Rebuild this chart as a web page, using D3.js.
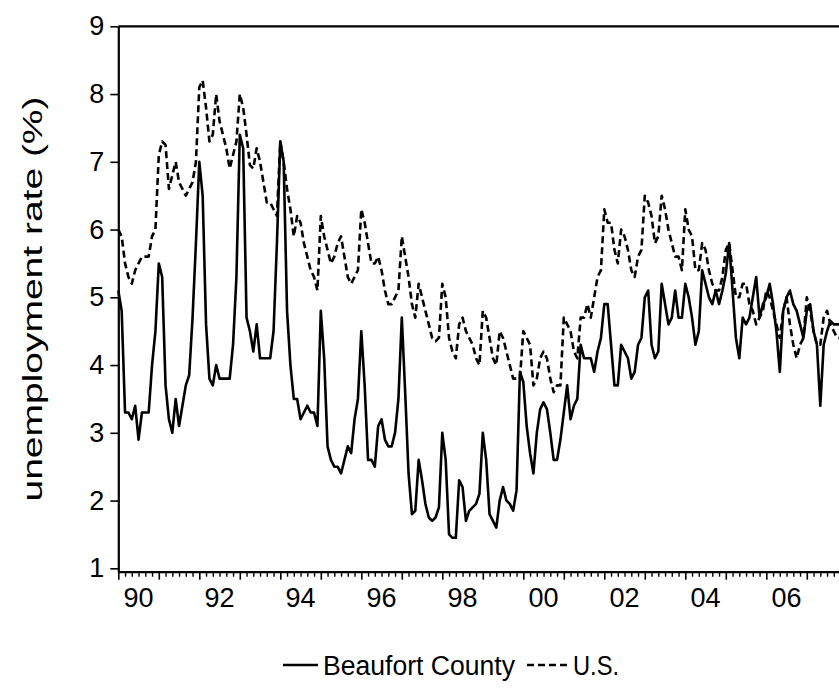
<!DOCTYPE html>
<html>
<head>
<meta charset="utf-8">
<script src="https://cdn.jsdelivr.net/npm/d3@7/dist/d3.min.js"></script>
<style>
  body { margin: 0; background: #fff; }
  svg { display: block; }
  text { font-family: "Liberation Sans", Arial, sans-serif; fill: #000; }
</style>
</head>
<body>
<div id="chart"></div>
<script>
// monthly series, first value = January 1990
const START_YEAR = 1990;

const BEAUFORT = [
  5.1, 4.8, 3.3, 3.3, 3.2, 3.4, 2.9, 3.3, 3.3, 3.3, 4.0, 4.5,   // 1990
  5.5, 5.3, 3.7, 3.2, 3.0, 3.5, 3.1, 3.4, 3.7, 3.85, 4.7, 5.8,  // 1991
  7.0, 6.5, 4.6, 3.8, 3.7, 4.0, 3.8, 3.8, 3.8, 3.8, 4.3, 5.3,   // 1992
  7.4, 7.2, 4.7, 4.5, 4.2, 4.6, 4.1, 4.1, 4.1, 4.1, 4.5, 5.8,   // 1993
  7.3, 7.0, 4.8, 4.0, 3.5, 3.5, 3.2, 3.3, 3.4, 3.3, 3.3, 3.1,   // 1994
  4.8, 4.1, 2.8, 2.6, 2.5, 2.5, 2.4, 2.6, 2.8, 2.7, 3.2, 3.5,   // 1995
  4.5, 3.7, 2.6, 2.6, 2.5, 3.1, 3.2, 2.9, 2.8, 2.8, 3.0, 3.5,   // 1996
  4.7, 3.6, 2.4, 1.8, 1.85, 2.6, 2.3, 1.95, 1.75, 1.7, 1.75, 1.9, // 1997
  3.0, 2.6, 1.5, 1.45, 1.45, 2.3, 2.2, 1.7, 1.85, 1.9, 1.95, 2.1, // 1998
  3.0, 2.6, 1.8, 1.7, 1.6, 2.0, 2.2, 2.0, 1.95, 1.85, 2.15, 3.9, // 1999
  3.75, 3.1, 2.7, 2.4, 3.0, 3.35, 3.45, 3.35, 3.0, 2.6, 2.6, 2.9, // 2000
  3.3, 3.7, 3.2, 3.4, 3.5, 4.3, 4.1, 4.1, 4.1, 3.9, 4.2, 4.4,   // 2001
  4.9, 4.9, 4.3, 3.7, 3.7, 4.3, 4.2, 4.1, 3.8, 3.9, 4.3, 4.4,   // 2002
  5.0, 5.1, 4.3, 4.1, 4.2, 5.2, 4.9, 4.6, 4.7, 5.1, 4.7, 4.7,   // 2003
  5.2, 5.0, 4.7, 4.3, 4.5, 5.4, 5.2, 5.0, 4.9, 5.1, 4.9, 5.1,   // 2004
  5.35, 5.8, 5.1, 4.4, 4.1, 4.7, 4.6, 4.7, 5.0, 5.3, 4.7, 4.9,  // 2005
  5.0, 5.2, 4.9, 4.5, 3.9, 4.8, 5.0, 5.1, 4.9, 4.8, 4.6, 4.4,   // 2006
  4.8, 4.9, 4.5, 4.3, 3.4, 4.3, 4.5, 4.65, 4.6, 4.6, 4.6        // 2007
];

const US = [
  6.0, 5.9, 5.5, 5.3, 5.2, 5.4, 5.5, 5.6, 5.6, 5.6, 5.9, 6.0,   // 1990
  7.1, 7.3, 7.25, 6.6, 6.8, 7.0, 6.7, 6.6, 6.5, 6.6, 6.7, 7.0,  // 1991
  8.1, 8.2, 7.8, 7.3, 7.4, 8.0, 7.6, 7.4, 7.2, 6.9, 7.1, 7.3,   // 1992
  8.0, 7.8, 7.4, 6.95, 6.9, 7.2, 7.0, 6.7, 6.4, 6.4, 6.3, 6.2,  // 1993
  7.3, 7.0, 6.6, 6.3, 5.9, 6.2, 6.1, 5.8, 5.6, 5.4, 5.3, 5.1,   // 1994
  6.2, 5.9, 5.7, 5.5, 5.6, 5.8, 5.9, 5.6, 5.3, 5.2, 5.3, 5.4,   // 1995
  6.3, 6.1, 5.8, 5.5, 5.5, 5.6, 5.4, 5.1, 4.9, 4.9, 5.0, 5.1,   // 1996
  5.9, 5.6, 5.3, 4.9, 4.7, 5.2, 5.0, 4.8, 4.6, 4.4, 4.35, 4.4,  // 1997
  5.2, 5.0, 4.4, 4.2, 4.1, 4.6, 4.7, 4.5, 4.4, 4.3, 4.1, 4.0,   // 1998
  4.8, 4.7, 4.4, 4.1, 4.0, 4.5, 4.4, 4.2, 4.0, 3.8, 3.8, 3.8,   // 1999
  4.5, 4.4, 4.3, 3.7, 3.8, 4.1, 4.2, 4.1, 3.8, 3.6, 3.7, 3.7,   // 2000
  4.7, 4.6, 4.5, 4.2, 4.1, 4.7, 4.7, 4.9, 4.7, 5.0, 5.3, 5.4,   // 2001
  6.3, 6.1, 6.1, 5.7, 5.5, 6.0, 5.9, 5.7, 5.4, 5.3, 5.6, 5.7,   // 2002
  6.5, 6.4, 6.2, 5.8, 5.9, 6.5, 6.3, 6.0, 5.8, 5.6, 5.6, 5.4,   // 2003
  6.3, 6.0, 5.9, 5.4, 5.4, 5.8, 5.7, 5.4, 5.2, 5.1, 5.1, 5.3,   // 2004
  5.7, 5.8, 5.4, 5.0, 5.0, 5.2, 5.2, 4.9, 4.8, 4.6, 4.7, 4.8,   // 2005
  5.1, 5.0, 4.8, 4.6, 4.4, 4.8, 5.0, 4.6, 4.3, 4.1, 4.3, 4.4,   // 2006
  5.0, 4.8, 4.5, 4.3, 4.3, 4.7, 4.8, 4.6, 4.5, 4.4, 4.4         // 2007
];

const Y_TICKS = [1, 2, 3, 4, 5, 6, 7, 8, 9];
const LABEL_YEARS = [1990, 1992, 1994, 1996, 1998, 2000, 2002, 2004, 2006];
const MAJOR_YEARS = d3.range(1990, 2009);
const SERIES_NAMES = ["Beaufort County", "U.S."];

const WIDTH = 839;
const HEIGHT = 689;
const PLOT_LEFT = 118.3;
const PLOT_TOP = 26.3;
const PLOT_BOTTOM = 571.7;
const YEAR_PX = 40.5;
const FONT = 27;

const svg = d3.select('#chart').append('svg')
  .attr('width', WIDTH)
  .attr('height', HEIGHT);

const x = d3.scaleLinear()
  .domain([1990, 2008])
  .range([PLOT_LEFT, PLOT_LEFT + 18 * YEAR_PX]);

const y = d3.scaleLinear()
  .domain([0.95, 9])
  .range([PLOT_BOTTOM, PLOT_TOP]);

const monthToYear = i => START_YEAR + i / 12;

// frame: top border (right side runs off the picture)
svg.append('line')
  .attr('x1', PLOT_LEFT).attr('x2', x(2008))
  .attr('y1', PLOT_TOP).attr('y2', PLOT_TOP)
  .attr('stroke', '#000').attr('stroke-width', 2.2);

// y axis
const yAxis = svg.append('g')
  .attr('transform', `translate(${PLOT_LEFT},0)`)
  .call(d3.axisLeft(y).tickValues(Y_TICKS).tickFormat(d3.format('d'))
    .tickSize(8).tickSizeOuter(0).tickPadding(6));
yAxis.select('.domain').attr('stroke-width', 2.2);
yAxis.selectAll('.tick line').attr('stroke-width', 1.6);
yAxis.selectAll('.tick text')
  .attr('font-size', FONT)
  .style('font-family', '"Liberation Sans", Arial, sans-serif');

// x axis: year ticks, minor ticks every 2 months
const minorTicks = d3.range(1990, 2008, 1 / 6).filter(v => Math.abs(v - Math.round(v)) > 1e-6);
const xMinor = svg.append('g')
  .attr('transform', `translate(0,${PLOT_BOTTOM})`)
  .call(d3.axisBottom(x).tickValues(minorTicks).tickSize(5).tickFormat(''));
xMinor.select('.domain').remove();
xMinor.selectAll('.tick line').attr('stroke-width', 1.4);

const xAxis = svg.append('g')
  .attr('transform', `translate(0,${PLOT_BOTTOM})`)
  .call(d3.axisBottom(x).tickValues(MAJOR_YEARS).tickSize(8).tickSizeOuter(0).tickFormat(''));
xAxis.select('.domain').attr('stroke-width', 2.2);
xAxis.selectAll('.tick line').attr('stroke-width', 1.6);

svg.append('g').selectAll('text')
  .data(LABEL_YEARS)
  .join('text')
  .attr('x', d => x(d + 0.5))
  .attr('y', 607)
  .attr('text-anchor', 'middle')
  .attr('font-size', FONT)
  .text(d => String(d % 100).padStart(2, '0'));

// y title
svg.append('text')
  .attr('transform', `translate(42,${(PLOT_TOP + PLOT_BOTTOM) / 2}) rotate(-90)`)
  .attr('text-anchor', 'middle')
  .attr('font-size', FONT)
  .attr('textLength', 405)
  .attr('lengthAdjust', 'spacingAndGlyphs')
  .text('unemployment rate (%)');

// lines
const line = d3.line()
  .x((d, i) => x(monthToYear(i)))
  .y(d => y(d));

svg.append('path')
  .datum(US)
  .attr('fill', 'none')
  .attr('stroke', '#000')
  .attr('stroke-width', 2.6)
  .attr('stroke-dasharray', '7,4')
  .attr('stroke-linejoin', 'round')
  .attr('d', line);

svg.append('path')
  .datum(BEAUFORT)
  .attr('fill', 'none')
  .attr('stroke', '#000')
  .attr('stroke-width', 2.6)
  .attr('stroke-linejoin', 'round')
  .attr('d', line);

// legend
const legend = svg.append('g');
legend.append('line')
  .attr('x1', 283).attr('x2', 318).attr('y1', 665).attr('y2', 665)
  .attr('stroke', '#000').attr('stroke-width', 2.6);
legend.append('text')
  .attr('x', 323).attr('y', 675)
  .attr('font-size', FONT)
  .attr('textLength', 192)
  .attr('lengthAdjust', 'spacingAndGlyphs')
  .text(SERIES_NAMES[0]);
legend.append('line')
  .attr('x1', 527).attr('x2', 568).attr('y1', 665).attr('y2', 665)
  .attr('stroke', '#000').attr('stroke-width', 2.6)
  .attr('stroke-dasharray', '7,4');
legend.append('text')
  .attr('x', 573).attr('y', 675)
  .attr('font-size', FONT)
  .attr('textLength', 46)
  .attr('lengthAdjust', 'spacingAndGlyphs')
  .text(SERIES_NAMES[1]);
</script>
</body>
</html>
